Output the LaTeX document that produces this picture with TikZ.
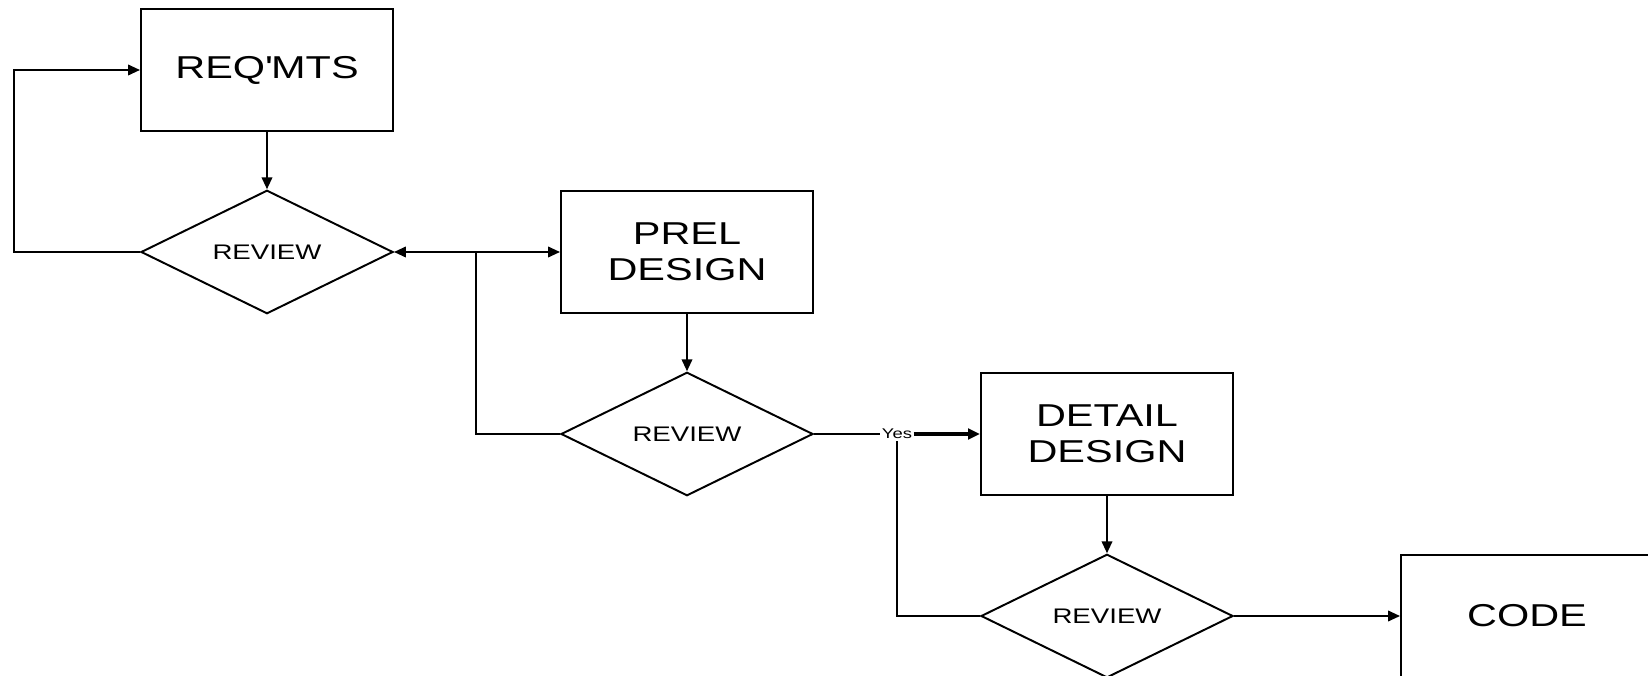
\documentclass[tikz,border=0pt]{standalone}
\usepackage{fontspec}
\setmainfont{Liberation Sans}[FakeStretch=1.31]
\usetikzlibrary{shapes.geometric,arrows.meta}
\tikzstyle{process}=[rectangle,minimum width=6.3cm,minimum height=3.05cm,text centered,align=center,draw=black,font=\fontsize{22.5}{25.6}\selectfont]
\tikzstyle{decision}=[diamond,minimum width=6.3cm,minimum height=3.05cm,inner sep=0pt,text centered,draw=black,font=\fontsize{15}{18}\selectfont]
\tikzstyle{answer}=[inner sep=0.5pt,font=\fontsize{10}{12}\selectfont]
\tikzstyle{arrow}=[-{Triangle[length=8.5pt,width=7.5pt]}]

\begin{document}
\begin{tikzpicture}[node distance=4.55cm,line width=1.4pt]
            \useasboundingbox (-6.675,1.75) rectangle (34.525,-15.15);
            \node (reqmts)[process]{REQ\textquotesingle MTS};
            \node (review1)[decision,below of=reqmts]{REVIEW};
            \node (prel)[process,below of=reqmts,xshift=10.5cm]{PREL\\DESIGN};
            \node (review2)[decision,below of=prel]{REVIEW};
            \node (detail)[process,below of=prel,xshift=10.5cm]{DETAIL\\DESIGN};
            \node (review3)[decision,below of=detail]{REVIEW};
            \node (code)[process,below of=detail,xshift=10.5cm]{CODE};
            \node (yes)[answer,below of=prel,xshift=5.25cm]{Yes};
            \draw [arrow] (reqmts) -- (review1);
            \draw [arrow] (review1.west) -- ++(-3.15cm,0) |- (reqmts.west);
            \draw [arrow] (review2.west) -| ([xshift=-2.1cm]prel.west) -- (review1.east);
            \draw [arrow] ([xshift=-2.1cm]prel.west) -- (prel.west);
            \draw [arrow] (prel) -- (review2);
            \draw (review2.east) -- (yes);
            \draw [arrow,line width=2.4pt] (yes) -- (detail.west);
            \draw (review3.west) -| (yes.south);
            \draw [arrow] (detail) -- (review3);
            \draw [arrow] (review3.east) -- (code.west);
        \end{tikzpicture}
\end{document}
